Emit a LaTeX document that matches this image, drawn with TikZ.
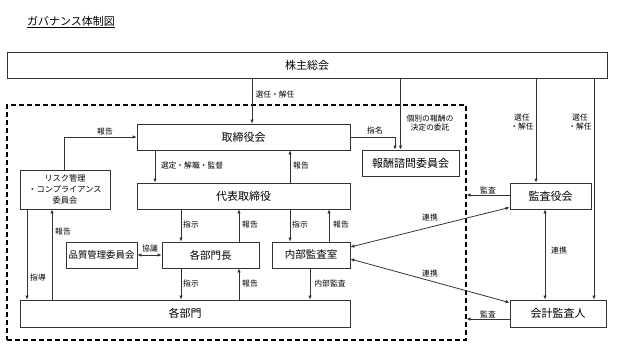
\documentclass[tikz,border=0pt]{standalone}
\usepackage{fontspec}
\setmainfont{Noto Sans CJK JP}
\usetikzlibrary{arrows.meta}
\begin{document}
\begin{tikzpicture}[x=1pt,y=-1pt,
  box/.style={draw=black!80,line width=0.8pt,minimum height=26pt,inner sep=0pt,align=center,font=\fontsize{11}{12}\selectfont},
  lbl/.style={inner sep=0pt,font=\fontsize{7.8}{9.8}\selectfont,align=center},
  arr/.style={draw=black!80,line width=0.8pt,-{Latex[length=4pt,width=3.5pt]}},
  darr/.style={draw=black!80,line width=0.8pt,{Latex[length=4pt,width=3.5pt]}-{Latex[length=4pt,width=3.5pt]}},
  plain/.style={draw=black!80,line width=0.8pt}]
\useasboundingbox (0,0) rectangle (617,346);

% title
\node[anchor=west,inner sep=0pt,font=\fontsize{11}{13}\selectfont] (title) at (27,22) {\underline{ガバナンス体制図}};

% inner dashed region
\node[draw=black,line width=1.1pt,dash pattern=on 5pt off 3pt,minimum width=459pt,minimum height=235pt,inner sep=0pt] (inner) at (236.5,222.5) {};

% boxes
\node[box,minimum width=600pt] (kabu) at (307,65) {株主総会};
\node[box,minimum width=213pt] (tori) at (243.5,137) {取締役会};
\node[box,minimum width=97pt] (hoshu) at (410.5,163) {報酬諮問委員会};
\node[box,minimum width=213pt] (daihyo) at (243.5,196) {代表取締役};
\node[box,minimum width=90pt,minimum height=39pt,font=\fontsize{8.2}{11}\selectfont] (risk) at (65,189.5) {リスク管理\\・コンプライアンス\\委員会};
\node[box,minimum width=71pt,font=\fontsize{9.4}{11}\selectfont] (hin) at (101.5,255) {品質管理委員会};
\node[box,minimum width=97pt,font=\fontsize{10.5}{12}\selectfont] (bucho) at (210.5,255) {各部門長};
\node[box,minimum width=78pt,font=\fontsize{10.5}{12}\selectfont] (naibu) at (311,255) {内部監査室};
\node[box,minimum width=330pt,minimum height=27pt] (bumon) at (185,313.5) {各部門};
\node[box,minimum width=81pt] (kansa) at (550.5,196) {監査役会};
\node[box,minimum width=96pt,minimum height=27pt] (kaikei) at (558,313.5) {会計監査人};

% connectors from shareholders
\draw[arr] (252,0 |- kabu.south) -- (252,0 |- tori.north);
\node[lbl] (l1) at (275,95) {選任・解任};
\draw[arr] (400.5,0 |- kabu.south) -- (400.5,0 |- hoshu.north);
\node[lbl] (l2) at (430,123) {個別の報酬の\\決定の委託};
\draw[arr] (536,0 |- kabu.south) -- (536,0 |- kansa.north);
\node[lbl] (l3) at (522,122) {選任\\・解任};
\draw[arr] (594,0 |- kabu.south) -- (594,0 |- kaikei.north);
\node[lbl] (l4) at (580,122) {選任\\・解任};

% nomination
\draw[arr] (tori.east) -| (395,0 |- hoshu.north);
\node[lbl] (l5) at (375,130.5) {指名};

% audit to inner region
\draw[arr] (kansa.west |- 0,195) -- (inner.east |- 0,195);
\node[lbl] (l6) at (488,190) {監査};
\draw[arr] (kaikei.west |- 0,319) -- (inner.east |- 0,319);
\node[lbl] (l7) at (488,314.5) {監査};

% cooperation
\draw[darr] (545,0 |- kansa.south) -- (545,0 |- kaikei.north);
\node[lbl] (l8) at (559,251) {連携};
\draw[darr] ([yshift=2pt]kansa.south west) -- ([yshift=8pt]naibu.east);
\node[lbl] (l9) at (430,217.5) {連携};
\draw[darr] ([yshift=-4pt]naibu.east) -- ([yshift=-3pt]kaikei.north west);
\node[lbl] (l10) at (430,274) {連携};

% board <-> representative director
\draw[arr] (155,0 |- tori.south) -- (155,0 |- daihyo.north);
\node[lbl] (l11) at (192,166) {選定・解職・監督};
\draw[arr] (290,0 |- daihyo.north) -- (290,0 |- tori.south);
\node[lbl] (l12) at (301,166) {報告};

% risk committee
\draw[arr] (64,0 |- risk.north) |- (tori.west);
\node[lbl] (l13) at (105,131.5) {報告};
\draw[arr] (27,0 |- risk.south) -- (27,0 |- bumon.north);
\node[lbl] (l14) at (38,278) {指導};
\draw[arr] (52,0 |- bumon.north) -- (52,0 |- risk.south);
\node[lbl] (l15) at (63,232) {報告};

% quality committee
\draw[darr] (hin.east) -- (bucho.west);
\node[lbl] (l16) at (150,248.5) {協議};

% representative director -> managers / internal audit
\draw[arr] (181,0 |- daihyo.south) -- (181,0 |- bucho.north);
\node[lbl] (l17) at (191,225) {指示};
\draw[arr] (239,0 |- bucho.north) -- (239,0 |- daihyo.south);
\node[lbl] (l18) at (250,225) {報告};
\draw[arr] (290,0 |- daihyo.south) -- (290,0 |- naibu.north);
\node[lbl] (l19) at (300,225) {指示};
\draw[arr] (329,0 |- naibu.north) -- (329,0 |- daihyo.south);
\node[lbl] (l20) at (341,225) {報告};

% managers / internal audit -> departments
\draw[arr] (181,0 |- bucho.south) -- (181,0 |- bumon.north);
\node[lbl] (l21) at (191,284) {指示};
\draw[arr] (239,0 |- bumon.north) -- (239,0 |- bucho.south);
\node[lbl] (l22) at (250,284) {報告};
\draw[arr] (310,0 |- naibu.south) -- (310,0 |- bumon.north);
\node[lbl] (l23) at (330,284) {内部監査};
\end{tikzpicture}
\end{document}
